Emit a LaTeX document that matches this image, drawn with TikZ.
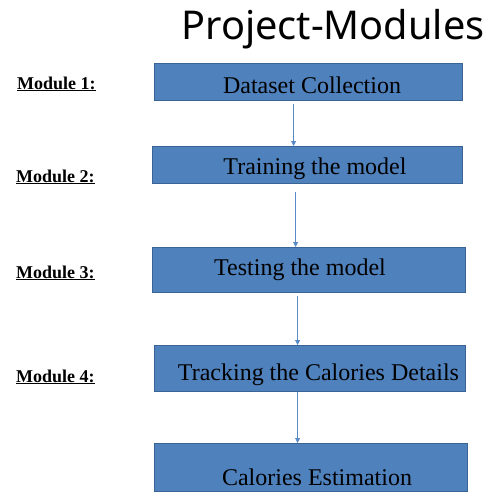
\documentclass[tikz,border=0pt]{standalone}
\usepackage{fontspec}
\setmainfont{Liberation Serif}
\newfontfamily\titlefont{Noto Sans}
\usetikzlibrary{arrows.meta}
\definecolor{boxblue}{HTML}{4F81BD}
\definecolor{boxedge}{HTML}{3A6496}
\definecolor{arrblue}{HTML}{5B8BC6}
\tikzset{
  modbox/.style={rectangle, fill=boxblue, draw=boxedge, line width=1.2pt, anchor=north west, inner sep=0pt},
  boxtext/.style={anchor=base, inner sep=0pt, font=\fontsize{24}{28}\selectfont},
  modlabel/.style={anchor=base west, inner sep=0pt, font=\fontsize{18}{20}\selectfont\bfseries},
  arr/.style={draw=arrblue, line width=0.8pt, -{Triangle[width=5pt,length=5pt]}}
}
\begin{document}
\begin{tikzpicture}[x=1pt,y=-1pt]
\useasboundingbox (0,0) rectangle (492,493);
\node[anchor=base, inner sep=0pt, font=\titlefont\fontsize{39.7}{46}\selectfont] (title) at (333,39) {Project-Modules};

\node[modbox, minimum width=308pt, minimum height=37pt] (b1) at (154,63) {};
\node[modbox, minimum width=310pt, minimum height=37pt] (b2) at (152,146) {};
\node[modbox, minimum width=313pt, minimum height=45pt] (b3) at (152,247) {};
\node[modbox, minimum width=311pt, minimum height=46pt] (b4) at (154,345) {};
\node[modbox, minimum width=313pt, minimum height=48pt] (b5) at (154,443) {};

\node[boxtext] (t1) at (312,93) {Dataset Collection};
\node[boxtext] (t2) at (315,174) {Training the model};
\node[boxtext] (t3) at (300,275) {Testing the model};
\node[boxtext] (t4) at (318.5,380) {Tracking the Calories Details};
\node[boxtext] (t5) at (317,485) {Calories Estimation};

\node[modlabel] (m1) at (17,89) {\underline{Module 1:}};
\node[modlabel] (m2) at (16,182) {\underline{Module 2:}};
\node[modlabel] (m3) at (16,278) {\underline{Module 3:}};
\node[modlabel] (m4) at (16,382) {\underline{Module 4:}};

\draw[arr] ([xshift=-15pt,yshift=-3pt]b1.south) -- ([xshift=-15pt]b1.south |- b2.north);
\draw[arr] ([xshift=-12pt,yshift=-8pt]b2.south) -- ([xshift=-12pt]b2.south |- b3.north);
\draw[arr] ([xshift=-11.5pt,yshift=-3pt]b3.south) -- ([xshift=-11.5pt]b3.south |- b4.north);
\draw[arr] ([xshift=-12.5pt]b4.south) -- ([xshift=-12.5pt]b4.south |- b5.north);
\end{tikzpicture}
\end{document}
